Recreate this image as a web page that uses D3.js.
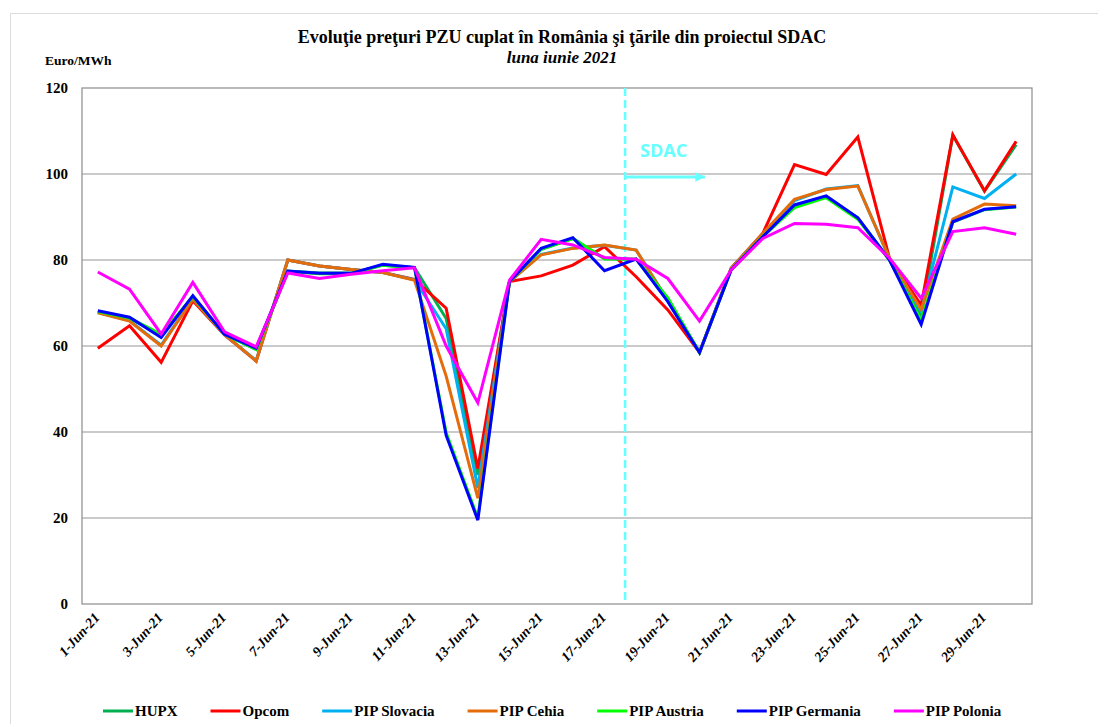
<!DOCTYPE html>
<html>
<head>
<meta charset="utf-8">
<script src="https://cdn.jsdelivr.net/npm/d3@7"></script>
<style>
  body { margin: 0; background: #fff; }
  svg text { font-family: "Liberation Serif", "Times New Roman", serif; font-weight: bold; }
</style>
</head>
<body>
<svg id="chart" width="1098" height="724"></svg>
<script>
var days = ["1-Jun-21","2-Jun-21","3-Jun-21","4-Jun-21","5-Jun-21","6-Jun-21","7-Jun-21","8-Jun-21","9-Jun-21","10-Jun-21",
            "11-Jun-21","12-Jun-21","13-Jun-21","14-Jun-21","15-Jun-21","16-Jun-21","17-Jun-21","18-Jun-21","19-Jun-21","20-Jun-21",
            "21-Jun-21","22-Jun-21","23-Jun-21","24-Jun-21","25-Jun-21","26-Jun-21","27-Jun-21","28-Jun-21","29-Jun-21","30-Jun-21"];

var hupx     = [68.0, 66.5, 62.5, 71.5, 62.7, 59.2, 77.4, 77.0, 77.0, 78.8, 78.2, 66.4, 30.0, 75.0, 82.5, 85.0, 80.3, 80.2, 71.0, 58.5, 77.8, 85.5, 92.5, 94.8, 89.8, 80.0, 67.0, 109.0, 96.0, 106.8];
var opcom    = [59.5, 64.7, 56.2, 70.5, 62.6, 56.5, 80.0, 78.6, 77.8, 77.1, 75.5, 68.8, 31.5, 75.0, 76.3, 78.8, 83.1, 76.1, 68.4, 58.5, 78.1, 86.2, 102.2, 99.9, 108.6, 80.4, 69.5, 109.1, 96.1, 107.6];
var slovacia = [67.8, 65.9, 60.2, 71.0, 62.7, 56.6, 80.0, 78.6, 77.8, 77.1, 75.4, 64.0, 27.0, 75.0, 81.3, 82.8, 83.4, 82.3, 70.6, 58.5, 78.0, 86.1, 93.8, 96.5, 97.3, 80.3, 68.0, 97.0, 94.3, 100.0];
var cehia    = [67.7, 65.8, 60.0, 70.9, 62.7, 56.5, 80.0, 78.6, 77.8, 77.1, 75.3, 53.0, 24.6, 75.0, 81.2, 82.7, 83.5, 82.3, 70.5, 58.5, 78.0, 86.2, 94.1, 96.4, 97.2, 80.4, 68.5, 89.5, 93.0, 92.6];
var austria  = [68.0, 66.5, 62.7, 71.5, 62.7, 59.2, 77.3, 76.8, 76.8, 78.8, 78.2, 39.8, 20.0, 75.0, 82.5, 85.0, 80.3, 80.2, 71.2, 58.5, 77.8, 85.5, 92.2, 94.5, 89.5, 80.0, 66.0, 88.8, 91.7, 92.3];
var germania = [68.2, 66.7, 62.0, 71.7, 62.7, 59.5, 77.4, 76.9, 76.9, 79.0, 78.3, 39.2, 19.5, 75.0, 82.7, 85.2, 77.5, 80.2, 70.3, 58.5, 77.7, 85.4, 92.8, 94.9, 89.8, 80.0, 65.0, 88.9, 91.8, 92.4];
var polonia  = [77.2, 73.2, 62.8, 74.8, 63.3, 59.8, 77.0, 75.7, 76.7, 77.5, 78.2, 60.0, 46.8, 75.3, 84.8, 83.5, 80.6, 80.2, 75.7, 65.8, 77.7, 85.0, 88.5, 88.3, 87.5, 80.4, 71.1, 86.6, 87.5, 86.0];

var seriesNames  = ["HUPX", "Opcom", "PIP Slovacia", "PIP Cehia", "PIP Austria", "PIP Germania", "PIP Polonia"];
var seriesColors = ["#00b050", "#ff0000", "#00b0f0", "#e46c0a", "#00ff00", "#0000ff", "#ff00ff"];
var seriesValues = [hupx, opcom, slovacia, cehia, austria, germania, polonia];

var yTicks = [0, 20, 40, 60, 80, 100, 120];

// SDAC marker: start of coupling (in day-index units) and arrow end
var sdacStart = 16.65, sdacArrowEnd = 19.17, sdacArrowValue = 99.3, sdacLabelValue = 104;

var svg = d3.select("#chart");
var plotL = 82, plotR = 1032, plotT = 88, plotB = 604;

var x = d3.scaleLinear().domain([-0.5, days.length - 0.5]).range([plotL, plotR]);
var y = d3.scaleLinear().domain([0, 120]).range([plotB, plotT]);

// outer frame
svg.append("rect").attr("x", 10.5).attr("y", 13.5).attr("width", 1100).attr("height", 720)
  .attr("fill", "#fff").attr("stroke", "#dcdcdc");

// gridlines
svg.append("g").selectAll("line").data(yTicks.slice(1, -1)).join("line")
  .attr("x1", plotL).attr("x2", plotR)
  .attr("y1", function(d) { return y(d); }).attr("y2", function(d) { return y(d); })
  .attr("stroke", "#969696").attr("stroke-width", 1.2);

// plot border
svg.append("rect").attr("x", plotL).attr("y", plotT).attr("width", plotR - plotL).attr("height", plotB - plotT)
  .attr("fill", "none").attr("stroke", "#8c8c8c").attr("stroke-width", 1.2);

// y axis labels
var yAxis = d3.axisLeft(y).tickValues(yTicks).tickSize(0).tickPadding(14);
svg.append("g").attr("transform", "translate(" + plotL + ",0)").call(yAxis)
  .call(function(g) { g.select(".domain").remove(); })
  .selectAll("text").style("font-size", "15px").style("font-family", "Liberation Serif").attr("fill", "#000");

// x axis labels (every other day)
var xAxis = d3.axisBottom(x).tickValues(d3.range(0, days.length, 2)).tickSize(0).tickFormat(function(i) { return days[i]; });
var xg = svg.append("g").attr("transform", "translate(0," + plotB + ")").call(xAxis);
xg.select(".domain").remove();
xg.selectAll("text")
  .style("font-size", "14px").style("font-family", "Liberation Serif").style("font-style", "italic")
  .attr("fill", "#000")
  .attr("text-anchor", "end")
  .attr("y", 0).attr("dy", 0)
  .attr("transform", "translate(2,14) rotate(-48)");

// SDAC dashed line
svg.append("line")
  .attr("x1", x(sdacStart)).attr("x2", x(sdacStart))
  .attr("y1", plotT).attr("y2", plotB)
  .attr("stroke", "#66ffff").attr("stroke-width", 2.5).attr("stroke-dasharray", "8,4");

// series lines
var line = d3.line().x(function(d, i) { return x(i); }).y(function(d) { return y(d); });
svg.append("g").selectAll("path").data(seriesValues).join("path")
  .attr("d", line)
  .attr("fill", "none")
  .attr("stroke", function(d, i) { return seriesColors[i]; })
  .attr("stroke-width", 3)
  .attr("stroke-linejoin", "miter");

// SDAC arrow and label
svg.append("defs").append("marker").attr("id", "arr")
  .attr("viewBox", "0 0 10 10").attr("refX", 10).attr("refY", 5)
  .attr("markerWidth", 3.2).attr("markerHeight", 3.4).attr("markerUnits", "strokeWidth").attr("orient", "auto")
  .append("path").attr("d", "M0,0L10,5L0,10Z").attr("fill", "#66ffff");
svg.append("line")
  .attr("x1", x(sdacStart)).attr("x2", x(sdacArrowEnd))
  .attr("y1", y(sdacArrowValue)).attr("y2", y(sdacArrowValue))
  .attr("stroke", "#66ffff").attr("stroke-width", 3).attr("marker-end", "url(#arr)");
svg.append("text")
  .attr("x", x(sdacStart) + 15).attr("y", y(sdacLabelValue))
  .style("font-family", "'Open Sans', sans-serif").style("font-size", "18px").style("font-weight", "bold")
  .attr("fill", "#66ffff").text("SDAC");

// titles
svg.append("text").attr("x", 562).attr("y", 43).attr("text-anchor", "middle").style("font-size", "18px")
  .text("Evoluţie preţuri PZU cuplat în România şi ţările din proiectul SDAC");
svg.append("text").attr("x", 562).attr("y", 63).attr("text-anchor", "middle").style("font-size", "17px")
  .style("font-style", "italic").text("luna iunie 2021");
svg.append("text").attr("x", 45).attr("y", 65).style("font-size", "13.5px").text("Euro/MWh");

// legend
var lg = svg.append("g").attr("transform", "translate(103,711)");
var lx = 0;
seriesNames.forEach(function(name, i) {
  lg.append("line").attr("x1", lx).attr("x2", lx + 30).attr("y1", 0).attr("y2", 0)
    .attr("stroke", seriesColors[i]).attr("stroke-width", 3);
  var t = lg.append("text").attr("x", lx + 32).attr("y", 5).style("font-size", "15px").text(name);
  lx += 32 + t.node().getComputedTextLength() + 33;
});
</script>
</body>
</html>
